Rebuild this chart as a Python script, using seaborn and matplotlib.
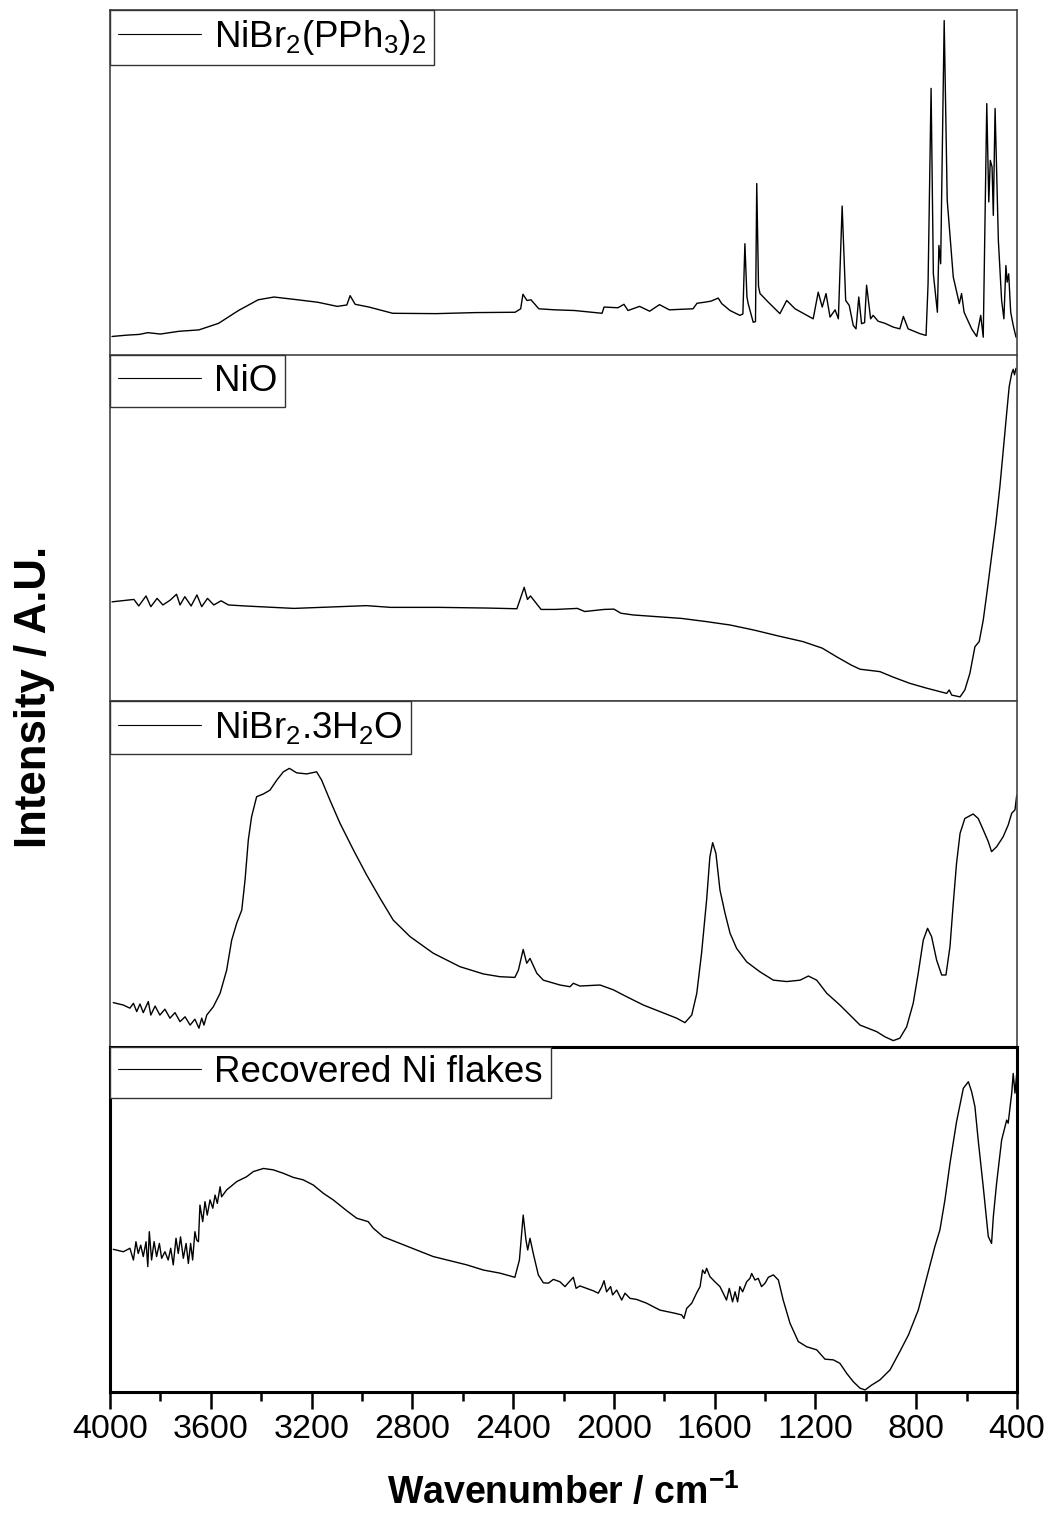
import numpy as np
import pandas as pd
import matplotlib
matplotlib.use("Agg")
import matplotlib.pyplot as plt
from matplotlib.ticker import MultipleLocator
import seaborn as sns

# ---------------- data ----------------
labels = ["NiBr$_2$(PPh$_3$)$_2$", "NiO", "NiBr$_2$.3H$_2$O", "Recovered Ni flakes"]

wn_pph = [3992, 3930, 3883, 3850, 3800, 3726, 3647, 3569, 3490, 3412, 3349, 3255, 3176, 3098,
          3060, 3047, 3027, 2972, 2878, 2706, 2549, 2392, 2370, 2361, 2345, 2329, 2298, 2235,
          2156, 2047, 2039, 1984, 1960, 1944, 1898, 1858, 1819, 1780, 1686, 1670, 1640, 1615,
          1586, 1572, 1539, 1500, 1488, 1480, 1472, 1467, 1447, 1438, 1433, 1426, 1420, 1387,
          1341, 1314, 1281, 1209, 1189, 1173, 1158, 1142, 1122, 1109, 1094, 1080, 1066, 1050,
          1039, 1028, 1017, 1005, 997, 981, 971, 951, 924, 891, 865, 851, 832, 785, 761, 753,
          741, 732, 716, 710, 703, 689, 677, 653, 629, 620, 610, 580, 560, 544, 534, 520, 512,
          506, 499, 494, 487, 474, 461, 452, 444, 439, 433, 425, 415, 404]
int_pph = [5.5, 5.9, 6.1, 6.6, 6.2, 7.0, 7.4, 9.3, 13.0, 16.1, 16.9, 16.1, 15.4, 14.2,
           14.6, 17.3, 14.8, 14.0, 12.2, 12.1, 12.4, 12.5, 13.5, 17.7, 15.9, 16.1, 13.5, 13.2,
           13.0, 12.2, 14.0, 13.8, 14.8, 13.0, 14.2, 12.8, 14.7, 13.2, 13.5, 15.1, 15.4, 15.7,
           16.6, 15.0, 13.0, 11.6, 12.0, 32.3, 17.0, 15.0, 9.6, 9.8, 49.7, 20.0, 17.9, 15.4,
           12.1, 15.9, 13.5, 10.6, 18.3, 14.0, 17.9, 11.1, 13.2, 10.6, 43.2, 15.9, 14.5, 8.7,
           7.7, 16.9, 9.2, 9.5, 20.3, 10.6, 11.6, 9.9, 9.3, 8.2, 7.7, 11.3, 7.7, 6.3, 5.8, 20.7,
           77.2, 23.6, 12.5, 31.8, 26.5, 96.8, 44.9, 22.7, 15.0, 17.9, 12.5, 7.7, 5.5, 11.6, 5.3, 72.8, 44.4,
           56.4, 54.5, 40.5, 71.4, 33.3, 15.9, 10.6, 26.0, 21.2, 23.6, 12.5, 8.7, 5.3]

wn_nio = [3992, 3905, 3886, 3857, 3838, 3813, 3790, 3761, 3736, 3722, 3703, 3678, 3655, 3636,
          3613, 3588, 3559, 3530, 3463, 3270, 2982, 2886, 2693, 2501, 2385, 2356, 2343, 2331,
          2289, 2231, 2145, 2116, 2039, 2000, 1972, 1923, 1827, 1731, 1635, 1539, 1442, 1346,
          1250, 1173, 1116, 1058, 1023, 944, 891, 825, 758, 679, 669, 659, 626, 607, 587, 567,
          550, 534, 518, 501, 484, 468, 452, 441, 431, 421, 415, 410, 404]
int_nio = [28.7, 29.4, 27.5, 30.4, 27.3, 29.7, 27.8, 29.2, 30.9, 27.8, 30.2, 27.5, 30.7, 27.3,
           29.7, 27.8, 29.0, 27.8, 27.5, 26.8, 27.6, 27.1, 27.1, 26.9, 26.7, 32.9, 29.4, 30.4,
           26.5, 26.5, 26.8, 25.9, 26.5, 26.6, 25.4, 24.9, 24.4, 23.9, 23.0, 22.0, 20.5, 18.8,
           17.2, 15.3, 12.8, 10.4, 9.2, 8.5, 6.9, 5.1, 3.7, 2.2, 3.2, 1.7, 1.2, 3.2, 8.0, 15.7,
           17.2, 23.4, 32.1, 41.8, 51.4, 62.0, 74.6, 83.3, 91.0, 94.8, 96.0, 94.4, 96.3]

wn_hyd = [3987, 3947, 3921, 3907, 3894, 3881, 3868, 3848, 3838, 3821, 3802, 3782, 3762, 3742,
          3722, 3702, 3682, 3663, 3647, 3636, 3627, 3616, 3590, 3563, 3537, 3517, 3497, 3477,
          3464, 3451, 3438, 3418, 3391, 3365, 3338, 3312, 3288, 3259, 3219, 3180, 3160, 3127,
          3087, 3034, 2981, 2928, 2876, 2809, 2717, 2611, 2518, 2452, 2393, 2379, 2360, 2346,
          2333, 2306, 2280, 2214, 2174, 2161, 2135, 2055, 2002, 1949, 1883, 1817, 1751, 1718,
          1691, 1671, 1652, 1632, 1619, 1608, 1595, 1579, 1559, 1539, 1513, 1473, 1420, 1367,
          1314, 1261, 1228, 1195, 1155, 1103, 1063, 1023, 957, 924, 891, 865, 838, 812, 792,
          772, 755, 739, 719, 699, 682, 666, 653, 640, 626, 607, 574, 554, 534, 514, 501, 481,
          455, 435, 421, 408, 401]
int_hyd = [12.7, 12.0, 11.1, 12.5, 10.1, 12.3, 9.8, 13.0, 9.1, 11.7, 9.1, 10.8, 8.2, 9.8,
           7.2, 8.6, 6.2, 7.9, 5.3, 8.2, 6.2, 9.1, 11.5, 15.4, 22.1, 30.8, 35.7, 39.5,
           48.2, 59.8, 66.5, 72.3, 73.1, 74.2, 77.1, 79.5, 80.5, 79.2, 78.9, 79.5, 77.1, 71.3,
           64.6, 56.9, 49.6, 42.9, 36.6, 31.8, 27.0, 23.1, 21.0, 20.2, 20.0, 22.1, 28.1, 24.1,
           25.5, 21.2, 19.2, 17.8, 17.3, 18.3, 17.5, 17.8, 16.4, 14.4, 12.0, 10.1, 8.2, 6.9,
           9.1, 15.4, 27.0, 42.4, 54.9, 59.0, 55.9, 45.3, 38.6, 32.8, 28.4, 24.5, 21.6, 19.2,
           18.8, 19.2, 20.4, 19.2, 15.4, 12.0, 9.1, 6.2, 4.3, 2.8, 1.7, 2.4, 5.7, 12.5, 21.2,
           30.8, 34.2, 31.8, 25.0, 20.7, 20.7, 28.9, 41.4, 53.0, 61.7, 66.0, 67.3, 66.0, 62.7,
           59.3, 56.4, 57.8, 60.7, 64.1, 67.5, 68.5, 72.8]

wn_rec = [3987, 3947, 3921, 3907, 3897, 3888, 3878, 3868, 3857, 3850, 3844, 3835, 3825, 3815,
          3804, 3795, 3782, 3769, 3759, 3749, 3738, 3729, 3720, 3709, 3698, 3689, 3680, 3672,
          3663, 3656, 3649, 3643, 3632, 3623, 3614, 3603, 3592, 3583, 3574, 3563, 3557, 3537,
          3497, 3458, 3431, 3391, 3352, 3312, 3272, 3233, 3193, 3153, 3114, 3061, 3021, 2975,
          2955, 2915, 2849, 2783, 2717, 2651, 2584, 2518, 2452, 2393, 2375, 2360, 2349, 2342,
          2333, 2320, 2300, 2280, 2260, 2240, 2214, 2194, 2181, 2161, 2150, 2135, 2108, 2082,
          2062, 2049, 2039, 2029, 2013, 2005, 1989, 1969, 1956, 1936, 1910, 1870, 1844, 1817,
          1791, 1758, 1731, 1722, 1711, 1691, 1672, 1658, 1648, 1639, 1632, 1619, 1599, 1579,
          1566, 1553, 1542, 1529, 1519, 1509, 1500, 1489, 1473, 1460, 1453, 1440, 1427, 1414,
          1400, 1387, 1367, 1347, 1328, 1301, 1268, 1235, 1195, 1162, 1129, 1103, 1076, 1050,
          1023, 1003, 977, 944, 904, 865, 831, 792, 759, 726, 706, 686, 666, 640, 613, 593,
          580, 567, 554, 534, 514, 501, 494, 481, 461, 441, 435, 421, 415, 408, 401]
int_rec = [41.3, 40.6, 41.6, 38.2, 43.5, 40.1, 42.5, 39.2, 43.5, 36.3, 46.4, 38.2, 43.5, 39.2,
           43.0, 38.7, 40.6, 38.2, 41.6, 36.8, 44.5, 40.1, 44.9, 38.7, 43.0, 37.2, 43.0, 38.2,
           46.4, 44.0, 43.5, 54.1, 49.3, 55.1, 51.2, 55.6, 53.2, 57.0, 54.6, 59.4, 56.5, 58.5,
           60.9, 62.3, 63.8, 64.7, 64.3, 63.3, 62.1, 61.4, 59.9, 57.5, 55.6, 52.5, 50.3, 49.3,
           47.4, 44.9, 43.0, 41.1, 39.2, 38.0, 36.8, 35.3, 34.4, 33.2, 38.2, 51.2, 44.0, 41.1,
           44.5, 40.1, 33.9, 31.6, 31.5, 32.6, 31.9, 30.5, 31.6, 33.2, 30.0, 30.7, 30.0, 29.3,
           28.6, 30.3, 32.2, 29.0, 30.5, 28.1, 29.5, 26.6, 28.6, 27.1, 26.8, 25.7, 24.7, 23.7,
           23.3, 22.8, 22.3, 21.3, 24.2, 25.7, 28.6, 30.5, 35.3, 34.3, 35.8, 33.4, 31.9, 30.5,
           28.6, 26.6, 30.0, 26.1, 29.0, 26.1, 30.5, 29.0, 31.9, 32.9, 34.3, 32.4, 32.9, 30.5,
           31.5, 33.2, 33.9, 32.4, 26.6, 19.9, 14.6, 13.1, 12.2, 9.5, 9.3, 8.3, 5.4, 3.0,
           1.1, 0.6, 2.0, 3.5, 6.4, 11.7, 16.5, 23.7, 32.9, 42.1, 46.9, 55.6, 66.2, 78.2, 87.9, 89.8,
           86.9, 82.6, 72.9, 59.4, 45.0, 43.0, 50.7, 60.4, 72.9, 78.7, 77.8, 86.5, 92.2, 86.5, 92.2]

x_major_ticks = [4000, 3600, 3200, 2800, 2400, 2000, 1600, 1200, 800, 400]

# ---------------- style ----------------
sns.set_style("white")
plt.rcParams["font.family"] = ["Liberation Sans", "DejaVu Sans"]
plt.rcParams["mathtext.fontset"] = "custom"
plt.rcParams["mathtext.rm"] = "Liberation Sans"
plt.rcParams["mathtext.it"] = "Liberation Sans:italic"
plt.rcParams["mathtext.bf"] = "Liberation Sans:bold"
plt.rcParams["text.color"] = "black"
plt.rcParams["axes.labelcolor"] = "black"
plt.rcParams["xtick.color"] = "black"
plt.rcParams["xtick.labelcolor"] = "black"

W, H = 1050, 1525
fig = plt.figure(figsize=(W / 100, H / 100), dpi=100)

left_px, right_px = 110, 1017
edges_px = [9.5, 355.5, 701, 1046.5, 1392]

series = [(wn_pph, int_pph), (wn_nio, int_nio), (wn_hyd, int_hyd), (wn_rec, int_rec)]
axes = []
for i, ((wn, inten), lab) in enumerate(zip(series, labels)):
    top, bot = edges_px[i], edges_px[i + 1]
    ax = fig.add_axes([left_px / W, 1 - bot / H, (right_px - left_px) / W, (bot - top) / H])
    ax.set_zorder(i + 1)
    ax.patch.set_alpha(0 if i == 3 else 1)
    df = pd.DataFrame({"wn": wn, "I": inten})
    sns.lineplot(data=df, x="wn", y="I", ax=ax, color="black", linewidth=1.0,
                 estimator=None, sort=True, label=lab)
    ax.set_xlim(4000, 400)
    ax.set_ylim(0, 100)
    ax.set_yticks([])
    ax.set_ylabel("")
    ax.set_xlabel("")
    leg = ax.legend(loc="upper left", bbox_to_anchor=(0, 1), borderaxespad=0,
                    frameon=True, fancybox=False, edgecolor="#333333", framealpha=1,
                    fontsize=26.5, handlelength=2.25, handletextpad=0.35, borderpad=0.22,
                    labelcolor="black")
    leg.get_frame().set_linewidth(1.0)
    for line in leg.get_lines():
        line.set_linewidth(0.8)
    if i < 3:
        ax.set_xticks([])
        for sp in ax.spines.values():
            sp.set_color("#444444")
            sp.set_linewidth(1.2)
    else:
        ax.set_xticks(x_major_ticks)
        ax.xaxis.set_minor_locator(MultipleLocator(200))
        ax.tick_params(axis="x", which="major", direction="out", length=12.5, width=1.8,
                       labelsize=24.5, pad=3, bottom=True, color="black")
        ax.tick_params(axis="x", which="minor", direction="out", length=6.5, width=1.8,
                       bottom=True, color="black")
        for sp in ax.spines.values():
            sp.set_color("black")
            sp.set_linewidth(2.2)
        ax.set_xlabel("Wavenumber / cm$\\mathbf{^{-1}}$", fontsize=27, fontweight="bold",
                      labelpad=21, color="black")
    axes.append(ax)

fig.text(35 / W, 1 - 697 / H, "Intensity / A.U.", rotation=90, ha="center", va="center",
         fontsize=31.5, fontweight="bold", color="black")

fig.savefig("out.png", dpi=100)
